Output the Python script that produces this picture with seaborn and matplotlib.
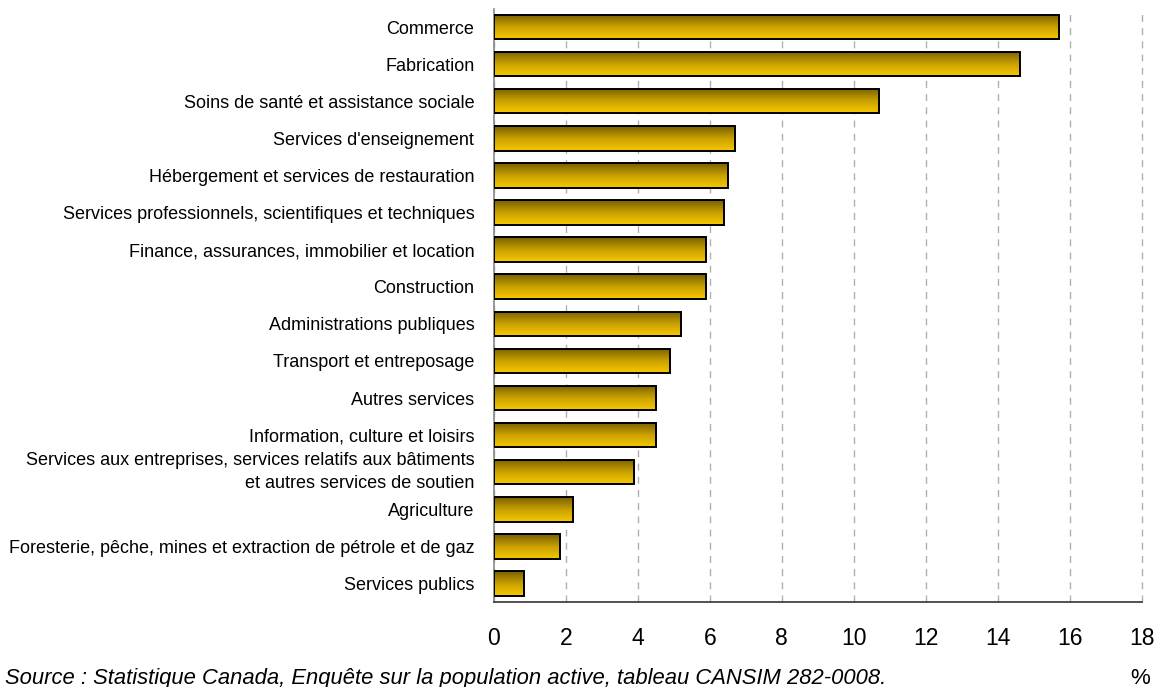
import numpy as np
import pandas as pd
import matplotlib
matplotlib.use("Agg")
import matplotlib.pyplot as plt
import matplotlib.transforms as mtransforms
import seaborn as sns
from matplotlib.colors import LinearSegmentedColormap

categories = [
    "Commerce",
    "Fabrication",
    "Soins de santé et assistance sociale",
    "Services d'enseignement",
    "Hébergement et services de restauration",
    "Services professionnels, scientifiques et techniques",
    "Finance, assurances, immobilier et location",
    "Construction",
    "Administrations publiques",
    "Transport et entreposage",
    "Autres services",
    "Information, culture et loisirs",
    "Services aux entreprises, services relatifs aux bâtiments\net autres services de soutien",
    "Agriculture",
    "Foresterie, pêche, mines et extraction de pétrole et de gaz",
    "Services publics",
]
values = [15.7, 14.6, 10.7, 6.7, 6.5, 6.4, 5.9, 5.9, 5.2, 4.9, 4.5, 4.5, 3.9, 2.2, 1.85, 0.84]
xticks = [0, 2, 4, 6, 8, 10, 12, 14, 16, 18]
source_text = "Source : Statistique Canada, Enquête sur la population active, tableau CANSIM 282-0008."
unit_text = "%"

sns.set_style("white")
plt.rcParams["font.family"] = ["Liberation Sans", "DejaVu Sans"]

df = pd.DataFrame({"cat": categories, "val": values})

fig = plt.figure(figsize=(11.62, 6.87), dpi=100)
ax = fig.add_axes([0.4249, 0.1237, 0.9828 - 0.4249, 0.9876 - 0.1237])

sns.barplot(data=df, x="val", y="cat", orient="h", ax=ax, width=0.66,
            color="#f5c400", edgecolor="black", linewidth=1.4, zorder=3)

cmap = LinearSegmentedColormap.from_list("gold", ["#776000", "#c9a000", "#f7c800"])
grad = np.linspace(0, 1, 128).reshape(-1, 1)
for p in list(ax.patches):
    x0, y0 = p.get_x(), p.get_y()
    w, h = p.get_width(), p.get_height()
    im = ax.imshow(grad, extent=(x0, x0 + w, y0 + h, y0), origin="upper",
                   aspect="auto", cmap=cmap, zorder=2.5, interpolation="bilinear")
    im.set_clip_path(p)
    p.set_facecolor("none")
    p.set_zorder(3)

ax.set_xlim(0, 18)
ax.set_ylim(len(categories) - 0.5, -0.5)
ax.set_xticks(xticks)
ax.set_xticklabels([str(t) for t in xticks], fontsize=16.5, color="black")
ax.set_xlabel("")
ax.set_ylabel("")
ax.tick_params(axis="y", length=0, pad=14, labelsize=13, labelcolor="black")
ax.tick_params(axis="x", length=7, width=1, color="#333333", direction="out", pad=11)
shift_up = mtransforms.ScaledTranslation(0, 5 / 100, fig.dpi_scale_trans)
for lab in ax.get_yticklabels():
    lab.set_multialignment("right")
    lab.set_linespacing(1.45)
    if "\n" in lab.get_text():
        lab.set_transform(lab.get_transform() + shift_up)

ax.xaxis.grid(True, color="#b0b0b0", linewidth=1.0, linestyle=(0, (5, 4.5)), zorder=0)
for gl in ax.xaxis.get_gridlines():
    gl.set_clip_on(False)
ax.yaxis.grid(False)
ax.set_axisbelow(True)
for s in ["top", "right"]:
    ax.spines[s].set_visible(False)
ax.spines["left"].set_color("#888888")
ax.spines["left"].set_linewidth(1.2)
ax.spines["bottom"].set_color("#333333")
ax.spines["bottom"].set_linewidth(1.2)

fig.text(0.004, 0.004, source_text, fontsize=15.8, style="italic", ha="left", va="baseline", color="black")
fig.text(0.981, 0.004, unit_text, fontsize=16, ha="center", va="baseline", color="black")

fig.savefig("out.png", dpi=100)
